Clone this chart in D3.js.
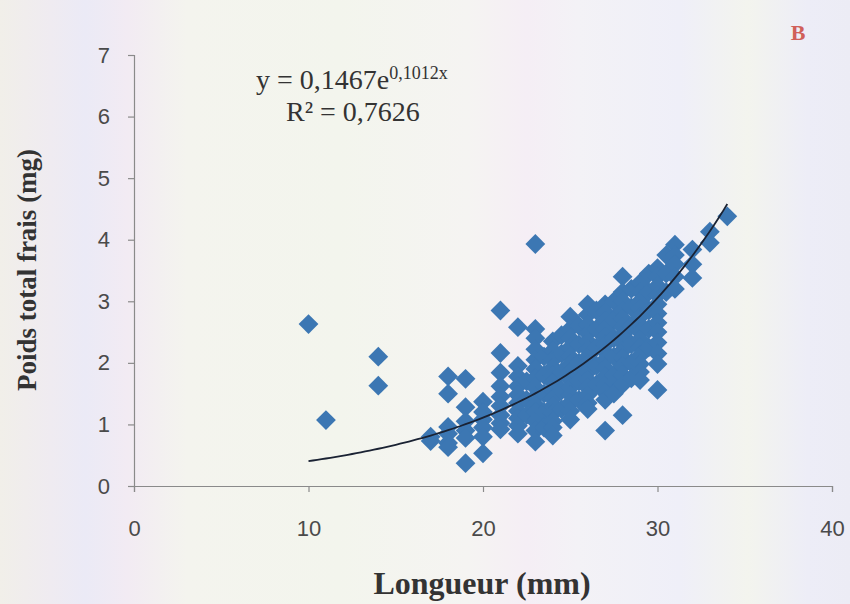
<!DOCTYPE html>
<html>
<head>
<meta charset="utf-8">
<script src="https://cdn.jsdelivr.net/npm/d3@7"></script>
<style>
  html, body { margin: 0; padding: 0; background: #f4f3ef; }
  svg { display: block; }
</style>
</head>
<body>
<svg id="chart" width="850" height="604"></svg>
<script>
// Length (mm) of each specimen
const lengths = [
  10, 11, 14, 14, 17, 17,
  18, 18, 18, 18, 18, 18,
  19, 19, 19, 19, 19, 19,
  20, 20, 20, 20, 20, 20,
  21, 21, 21, 21, 21, 21, 21, 21, 21,
  22, 22, 22, 22, 22, 22, 22, 22, 22, 22,
  22.5, 22.5, 22.5,
  23, 23, 23, 23, 23, 23, 23, 23, 23, 23, 23, 23, 23, 23,
  23.5, 23.5, 23.5, 23.5, 23.5,
  24, 24, 24, 24, 24, 24, 24, 24, 24, 24, 24, 24, 24,
  24.5, 24.5, 24.5, 24.5, 24.5,
  25, 25, 25, 25, 25, 25, 25, 25, 25, 25, 25, 25, 25,
  25.5, 25.5, 25.5, 25.5, 25.5,
  26, 26, 26, 26, 26, 26, 26, 26, 26, 26, 26, 26, 26, 26,
  26.5, 26.5, 26.5, 26.5, 26.5,
  27, 27, 27, 27, 27, 27, 27, 27, 27, 27, 27, 27, 27, 27,
  27.5, 27.5, 27.5, 27.5, 27.5, 27.5,
  28, 28, 28, 28, 28, 28, 28, 28, 28, 28, 28, 28, 28, 28,
  28.5, 28.5, 28.5, 28.5, 28.5, 28.5,
  29, 29, 29, 29, 29, 29, 29, 29, 29, 29, 29, 29, 29,
  29.5, 29.5, 29.5, 29.5, 29.5,
  30, 30, 30, 30, 30, 30, 30, 30, 30, 30, 30, 30,
  30.5, 30.5, 30.5,
  31, 31, 31, 31, 31,
  32, 32, 32,
  33, 33,
  34
];

// Total fresh weight (mg), same order as lengths
const weights = [
  2.63, 1.07, 2.10, 1.63, 0.73, 0.80,
  1.78, 1.50, 0.96, 0.85, 0.70, 0.63,
  1.74, 1.28, 1.05, 0.90, 0.78, 0.37,
  1.37, 1.20, 1.08, 0.95, 0.80, 0.53,
  2.85, 2.16, 1.84, 1.62, 1.45, 1.30, 1.15, 1.02, 0.92,
  2.58, 1.95, 1.78, 1.62, 1.48, 1.35, 1.22, 1.10, 0.98, 0.85,
  1.70, 1.40, 1.15,
  3.93, 2.55, 2.40, 2.22, 2.05, 1.90, 1.75, 1.60, 1.45, 1.32, 1.20, 1.05, 0.90, 0.72,
  2.10, 1.80, 1.50, 1.20, 0.95,
  2.35, 2.20, 2.05, 1.92, 1.80, 1.68, 1.55, 1.42, 1.30, 1.18, 1.05, 0.95, 0.82,
  2.45, 2.15, 1.85, 1.55, 1.25,
  2.75, 2.55, 2.40, 2.25, 2.10, 1.98, 1.85, 1.72, 1.60, 1.48, 1.35, 1.22, 1.08,
  2.60, 2.30, 2.00, 1.70, 1.40,
  2.95, 2.78, 2.62, 2.48, 2.35, 2.22, 2.10, 1.98, 1.85, 1.72, 1.60, 1.48, 1.35, 1.25,
  2.85, 2.55, 2.25, 1.95, 1.65,
  2.95, 2.82, 2.68, 2.55, 2.42, 2.30, 2.18, 2.05, 1.92, 1.78, 1.65, 1.52, 1.40, 0.90,
  3.00, 2.70, 2.40, 2.10, 1.80, 1.50,
  3.40, 3.15, 3.00, 2.85, 2.72, 2.58, 2.45, 2.32, 2.20, 2.08, 1.95, 1.80, 1.65, 1.15,
  3.20, 2.90, 2.60, 2.30, 2.00, 1.75,
  3.30, 3.15, 3.00, 2.88, 2.75, 2.62, 2.50, 2.38, 2.25, 2.12, 1.98, 1.85, 1.72,
  3.45, 3.15, 2.85, 2.55, 2.25,
  3.54, 3.40, 3.25, 3.10, 2.95, 2.80, 2.65, 2.50, 2.33, 2.15, 1.98, 1.56,
  3.75, 3.45, 3.15,
  3.92, 3.75, 3.60, 3.40, 3.20,
  3.84, 3.60, 3.38,
  4.13, 3.95,
  4.38
];

// Exponential trend line: y = a * e^(b x)
const trendCoef = [0.1467, 0.1012];
const trendRange = [10, 34];
const equationText = ["y = 0,1467e", "0,1012x"];
const r2Text = "R² = 0,7626";

const xTicks = [0, 10, 20, 30, 40];
const yTicks = [0, 1, 2, 3, 4, 5, 6, 7];

const svg = d3.select("#chart");
const W = 850, H = 604;

// Soft tinted paper background
const defs = svg.append("defs");
const bg = defs.append("linearGradient").attr("id", "paper")
  .attr("x1", "0%").attr("x2", "100%").attr("y1", "0%").attr("y2", "0%");
[
  [0, "#f1efe9"], [0.06, "#efebf1"], [0.1, "#ebeaf6"], [0.15, "#f2ebf3"],
  [0.22, "#f4f4ee"], [0.4, "#f3f5ed"], [0.55, "#f5f4f2"], [0.62, "#f5eef5"],
  [0.68, "#f3f2f6"], [0.8, "#efeff8"], [0.88, "#f3f4ee"], [0.95, "#ededf7"],
  [1, "#ececf5"]
].forEach(([o, c]) => bg.append("stop").attr("offset", o).attr("stop-color", c));
svg.append("rect").attr("width", W).attr("height", H).attr("fill", "url(#paper)");

const x = d3.scaleLinear().domain([0, 40]).range([134, 832]);
const y = d3.scaleLinear().domain([0, 7]).range([486, 55]);

const tickFont = "'Liberation Sans', Arial, sans-serif";
const serif = "'Liberation Serif', 'Times New Roman', serif";

// Axes
const xAxis = svg.append("g").attr("transform", `translate(0,${y(0)})`)
  .call(d3.axisBottom(x).tickValues(xTicks).tickSize(6).tickPadding(28).tickFormat(d3.format("d")));
const yAxis = svg.append("g").attr("transform", `translate(${x(0)},0)`)
  .call(d3.axisLeft(y).tickValues(yTicks).tickSize(6).tickPadding(18).tickFormat(d3.format("d")));
[xAxis, yAxis].forEach(g => {
  g.select(".domain").attr("stroke", "#8a8a8a").attr("stroke-width", 1.2);
  g.selectAll(".tick line").attr("stroke", "#8a8a8a").attr("stroke-width", 1.2);
  g.selectAll(".tick text").attr("fill", "#4a4a4a").style("font-family", tickFont).style("font-size", "22px");
});

// Scatter points as diamonds
const points = lengths.map((l, i) => ({ l, w: weights[i] }));
svg.append("g").selectAll("path").data(points).join("path")
  .attr("d", d3.symbol(d3.symbolSquare, 196))
  .attr("transform", d => `translate(${x(d.l)},${y(d.w)}) rotate(45)`)
  .attr("fill", "#3c77b3");

// Trend curve
const trendX = d3.range(trendRange[0], trendRange[1] + 0.001, 0.25);
const line = d3.line().x(d => x(d)).y(d => y(trendCoef[0] * Math.exp(trendCoef[1] * d)));
svg.append("path").datum(trendX).attr("d", line)
  .attr("fill", "none").attr("stroke", "#1a2233").attr("stroke-width", 1.8);

// Equation and R²
const eq = svg.append("text").attr("x", 256).attr("y", 89)
  .style("font-family", serif).style("font-size", "28px").attr("fill", "#333");
eq.append("tspan").text(equationText[0]);
eq.append("tspan").attr("dy", -10).style("font-size", "18px").text(equationText[1]);
svg.append("text").attr("x", 286).attr("y", 121)
  .style("font-family", serif).style("font-size", "28px").attr("fill", "#333").text(r2Text);

// Panel letter
svg.append("text").attr("x", 798).attr("y", 40).attr("text-anchor", "middle")
  .style("font-family", serif).style("font-size", "22px").style("font-weight", "bold")
  .attr("fill", "#d0605a").text("B");

// Axis titles
svg.append("text").attr("x", 482).attr("y", 594).attr("text-anchor", "middle")
  .style("font-family", serif).style("font-size", "32px").style("font-weight", "bold")
  .attr("fill", "#333").text("Longueur (mm)");
svg.append("text").attr("transform", "translate(36,270) rotate(-90)").attr("text-anchor", "middle")
  .style("font-family", serif).style("font-size", "27px").style("font-weight", "bold")
  .attr("fill", "#333").text("Poids total frais (mg)");
</script>
</body>
</html>
